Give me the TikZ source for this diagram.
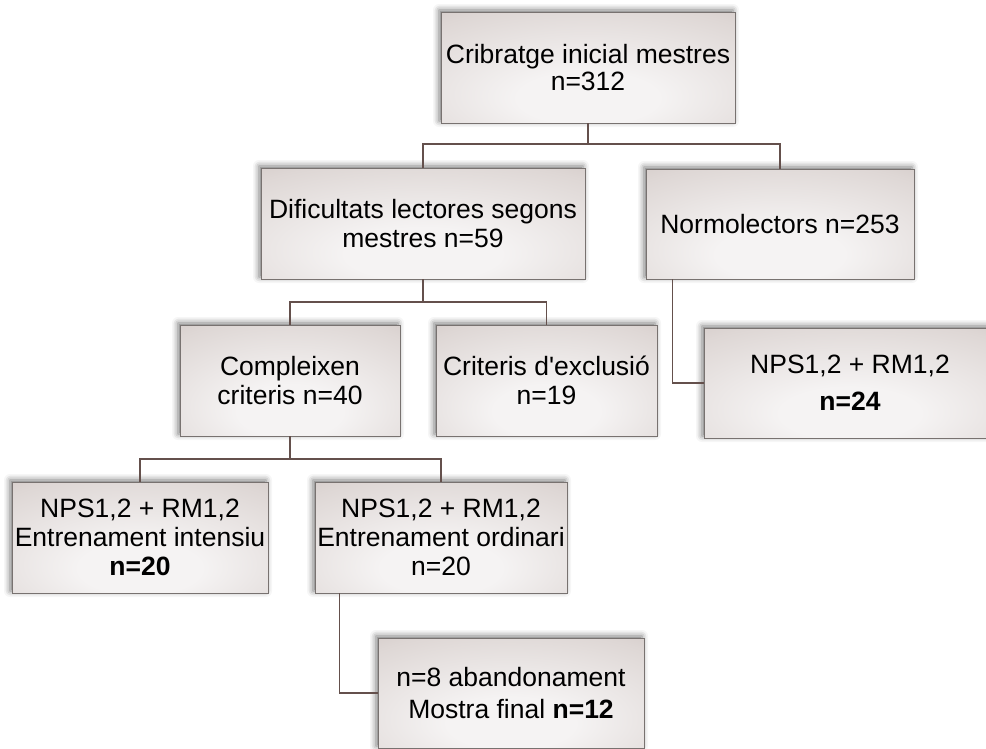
\documentclass[tikz,border=0pt]{standalone}
\usepackage{fontspec}
\setmainfont{Liberation Sans}
\usetikzlibrary{shadows.blur}

\definecolor{boxin}{RGB}{245,243,243}
\definecolor{boxmid}{RGB}{222,215,213}
\definecolor{boxout}{RGB}{190,177,173}
\definecolor{boxedge}{RGB}{120,114,112}
\definecolor{linkcol}{RGB}{100,80,76}

% soft glow, lightest a little below the middle of each box
\pgfdeclareradialshading{boxglow}{\pgfpoint{0bp}{-16bp}}{%
  color(0bp)=(boxin); color(12bp)=(boxin); color(38bp)=(boxmid);
  color(62bp)=(boxout); color(90bp)=(boxout)}

\tikzset{
  stagebox/.style={draw=boxedge, line width=0.9pt, shading=boxglow,
    rectangle, inner sep=0pt, align=center,
    font=\fontsize{26.5}{29}\selectfont,
    blur shadow={shadow xshift=-2pt, shadow yshift=2pt,
                 shadow blur radius=6pt, shadow opacity=55}},
  link/.style={draw=linkcol, line width=1.4pt}
}

\begin{document}
\begin{tikzpicture}[x=1pt, y=-1pt]
\useasboundingbox (0,0) rectangle (986,748);

% boxes
\node[stagebox, minimum width=294pt, minimum height=111pt] (top) at (588,67.5)
  {Cribratge inicial mestres\\[-2pt]n=312};
\node[stagebox, minimum width=324pt, minimum height=111pt] (dif) at (423,223.5)
  {Dificultats lectores segons\\mestres n=59};
\node[stagebox, minimum width=268pt, minimum height=110pt] (norm) at (780,224)
  {Normolectors n=253};
\node[stagebox, minimum width=220pt, minimum height=111pt] (comp) at (290,380.5)
  {Compleixen\\criteris n=40};
\node[stagebox, minimum width=221pt, minimum height=111pt] (excl) at (546.5,380.5)
  {Criteris d\textquotesingle exclusió\\n=19};
\node[stagebox, minimum width=292pt, minimum height=110pt] (npsR) at (850,383)
  {NPS1,2 + RM1,2\\[8pt]\textbf{n=24}};
\node[stagebox, minimum width=256pt, minimum height=111pt] (intens) at (140,537.5)
  {NPS1,2 + RM1,2\\Entrenament intensiu\\\textbf{n=20}};
\node[stagebox, minimum width=252pt, minimum height=111pt] (ordin) at (441,537.5)
  {NPS1,2 + RM1,2\\Entrenament ordinari\\n=20};
\node[stagebox, minimum width=266pt, minimum height=110pt] (final) at (511,693)
  {n=8 abandonament\\[3pt]Mostra final \textbf{n=12}};

% branch points
\coordinate (j1) at (588,144);
\coordinate (j2) at (423,302);
\coordinate (j3) at (290,459);

% connectors
\draw[link] (top.south) -- (j1);
\draw[link] (dif.north) |- (j1) -| (norm.north);
\draw[link] (dif.south) -- (j2);
\draw[link] (comp.north) |- (j2) -| (excl.north);
\draw[link] (comp.south) -- (j3);
\draw[link] (intens.north) |- (j3) -| (ordin.north);
\draw[link] ([xshift=27pt]norm.south west) |- (npsR.west);
\draw[link] ([xshift=25pt]ordin.south west) |- (final.west);
\end{tikzpicture}
\end{document}
